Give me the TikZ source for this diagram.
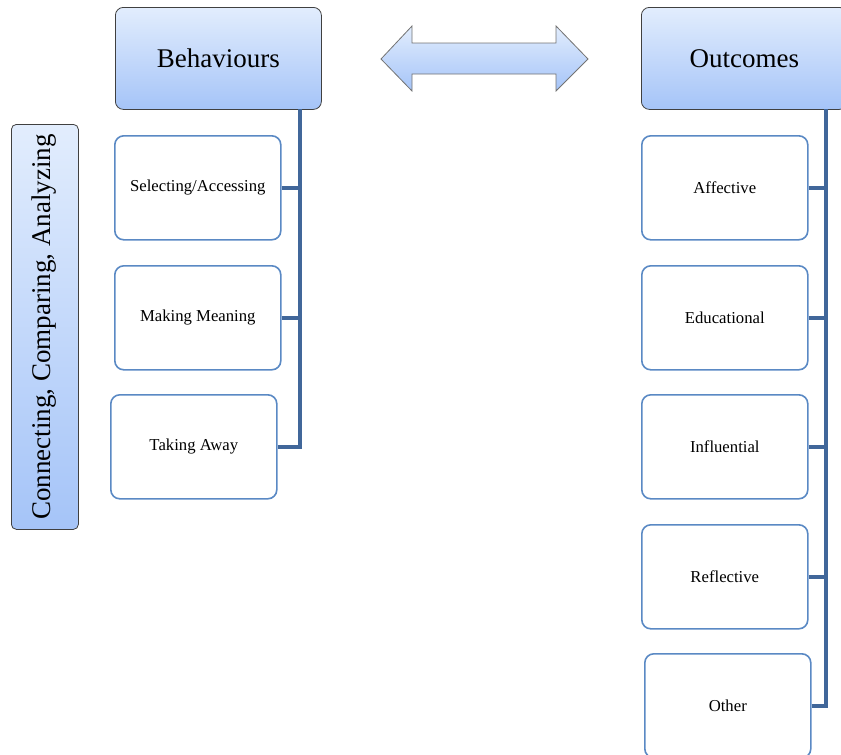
\documentclass[tikz,border=0pt]{standalone}
\usepackage{fontspec}
\setmainfont{Liberation Serif}
\begin{document}
\begin{tikzpicture}[x=1pt,y=-1pt,
  hdr/.style={draw=black!75, line width=0.8pt, rounded corners=8pt, top color=topblue, bottom color=botblue, minimum width=206pt, minimum height=102pt, anchor=north west, font=\fontsize{27}{30}\selectfont, inner sep=0pt},
  item/.style={draw=boxblue, line width=1.6pt, rounded corners=9pt, fill=white, minimum width=166pt, minimum height=104pt, anchor=north west, font=\fontsize{16.7}{19}\selectfont, inner sep=0pt},
  conn/.style={draw=lineblue, line width=4.5pt},
]
\definecolor{topblue}{HTML}{E2EDFD}
\definecolor{botblue}{HTML}{A5C4F8}
\definecolor{boxblue}{HTML}{5A89C4}
\definecolor{lineblue}{HTML}{41679A}
\useasboundingbox (0,0) rectangle (841,755);
\clip (0,0) rectangle (841,755);
% headers
\node[hdr] (beh) at (115,7) {Behaviours};
\node[hdr] (out) at (641,7) {Outcomes};
% side label
\node[draw=black!75, line width=0.8pt, rounded corners=5pt, top color=topblue, bottom color=botblue, minimum width=67pt, minimum height=405pt, anchor=north west, inner sep=0pt] (side) at (11,124) {};
\node[rotate=90, font=\fontsize{27}{30}\selectfont] (sidetext) at ([xshift=-1pt]side.center) {Connecting, Comparing, Analyzing};
% double arrow
\path[draw=black!55, line width=0.8pt, top color=topblue, bottom color=botblue]
  (381,59) -- (412,26) -- (412,43) -- (556,43) -- (556,26) -- (588,59) -- (556,91) -- (556,74) -- (412,74) -- (412,91) -- cycle;
% left items
\node[item] (b1) at (114,135) {\raisebox{-2pt}{Selecting/Accessing}};
\node[item] (b2) at (114,265) {\raisebox{-2pt}{Making Meaning}};
\node[item] (b3) at (110,394) {\raisebox{-2pt}{Taking Away}};
% right items
\node[item] (o1) at (641,135) {Affective};
\node[item] (o2) at (641,265) {Educational};
\node[item] (o3) at (641,394) {Influential};
\node[item] (o4) at (641,524) {Reflective};
\node[item] (o5) at (644,653) {Other};
% connectors
\coordinate (lx) at (300,109);
\coordinate (rx) at (826,109);
\draw[conn] (b3.east) -| (lx);
\draw[conn] (b1.east) -- (b1.east -| lx);
\draw[conn] (b2.east) -- (b2.east -| lx);
\draw[conn] (o5.east) -| (rx);
\draw[conn] (o1.east) -- (o1.east -| rx);
\draw[conn] (o2.east) -- (o2.east -| rx);
\draw[conn] (o3.east) -- (o3.east -| rx);
\draw[conn] (o4.east) -- (o4.east -| rx);
\end{tikzpicture}
\end{document}
